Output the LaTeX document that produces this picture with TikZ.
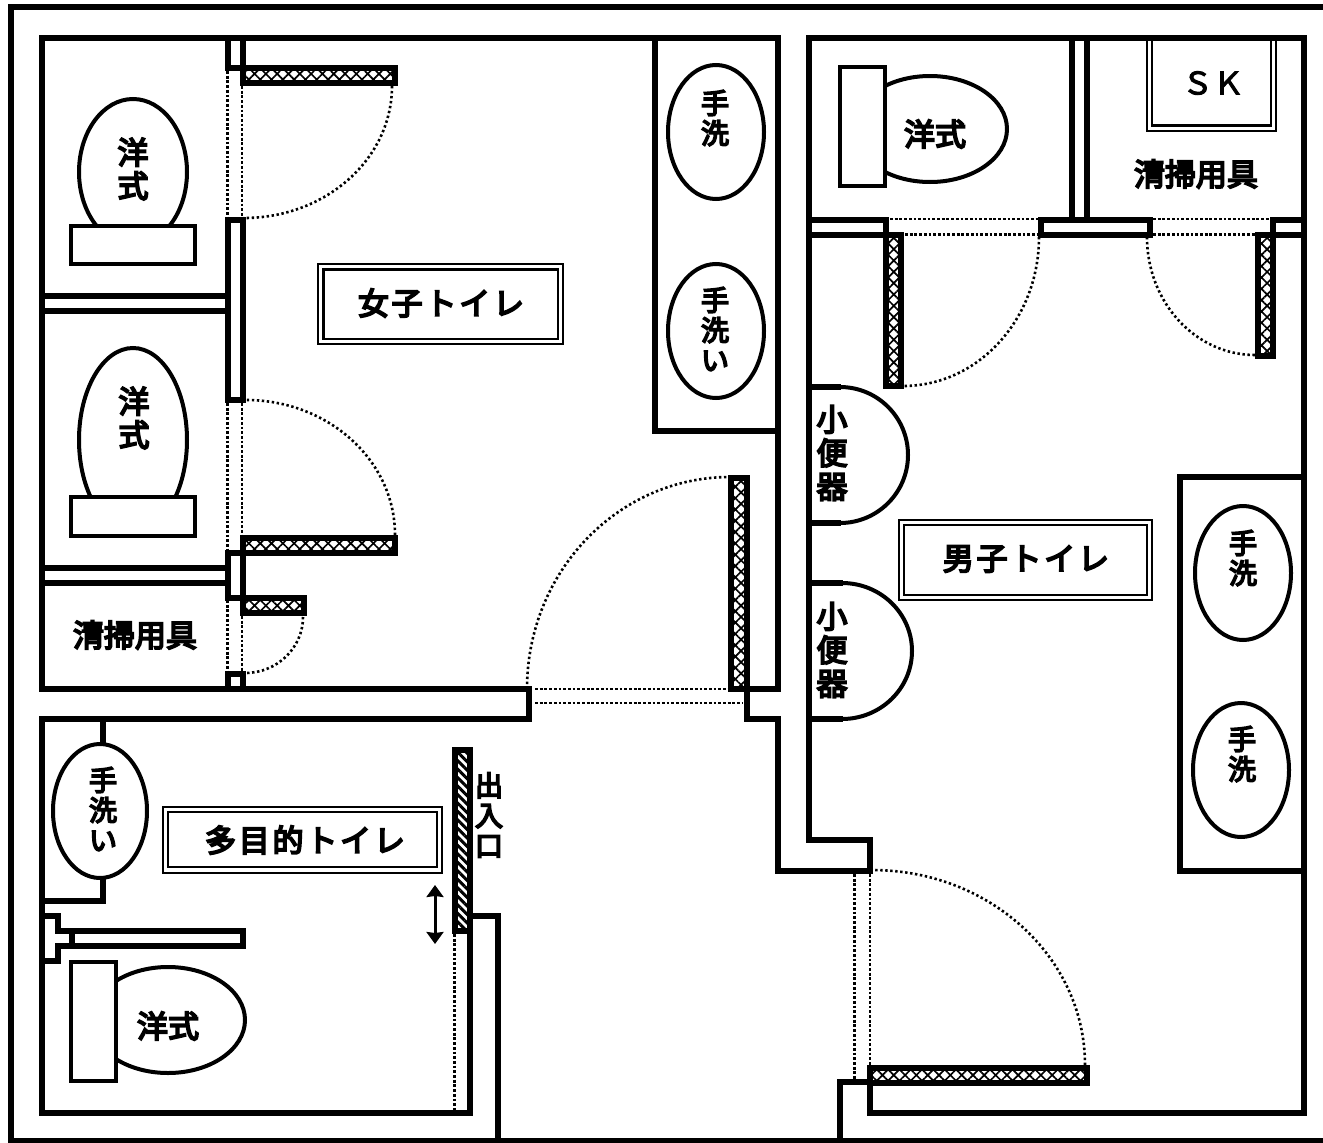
\documentclass[tikz,border=0pt]{standalone}
\usepackage{fontspec}
\newfontfamily\jpfont{Noto Sans CJK JP}[FakeBold=6]
\newfontfamily\jplight{Noto Sans CJK JP}[FakeBold=3]
\newfontfamily\jpwide{Noto Sans CJK JP}[FakeBold=6,LetterSpace=9]
\usetikzlibrary{arrows.meta,patterns.meta}
\tikzset{
  wall/.style={line width=6pt,line cap=rect},
  thin wall/.style={line width=4pt},
  panel/.style={line width=6pt,preaction={fill=white},pattern={Hatch[distance=8pt,angle=45,line width=1.7pt]}},
  hatch panel/.style={line width=6pt,preaction={fill=white},pattern={Lines[distance=6pt,angle=-45,line width=3pt]}},
  swing/.style={line width=2.6pt,dash pattern=on 2.4pt off 2.6pt},
  gap/.style={line width=2.8pt,dash pattern=on 2.8pt off 1.9pt},
  sign/.style={line width=2.4pt},
  big/.style={inner sep=0pt,align=center,font=\jpfont\fontsize{31}{33.5}\selectfont},
  small/.style={inner sep=0pt,align=center,font=\jpfont\fontsize{28}{30}\selectfont},
  title/.style={inner sep=0pt,font=\jpwide\fontsize{31}{33}\selectfont},
}
\begin{document}
\begin{tikzpicture}[x=1pt,y=-1pt]
\useasboundingbox (0,0) rectangle (1323,1143);
\draw[wall] (1330,7) -- (11,7) -- (11,1141) -- (1330,1141);
\draw[wall] (42,689) -- (42,38) -- (778,38) -- (778,689) -- (731,689);
\draw[wall] (42,689) -- (529,689) -- (529,719) -- (42,719) -- (42,1113) -- (470,1113) -- (470,916) -- (498,916) -- (498,1141);
\draw[wall] (655,38) -- (655,431) -- (778,431);
\draw[wall] (747,689) -- (747,719) -- (778,719) -- (778,871) -- (870,871) -- (870,840) -- (809,840) -- (809,38) -- (1304,38) -- (1304,1113) -- (870,1113) -- (870,1082) -- (840,1082) -- (840,1141);
\draw[wall] (227.5,38) -- (227.5,68) -- (243,68) -- (243,38);
\draw[wall] (227.5,220) rectangle (243,400);
\draw[wall] (42,296) -- (227.5,296) (42,311) -- (227.5,311);
\draw[wall] (227.5,553) rectangle (243,597.5);
\draw[wall] (42,568) -- (227.5,568) (42,583) -- (227.5,583);
\draw[wall] (227.5,689) -- (227.5,674) -- (243,674) -- (243,689);
\draw[wall] (809,220) -- (886,220) -- (886,235) (809,235) -- (886,235);
\draw[wall] (1041,220) rectangle (1149.5,235);
\draw[wall] (1072,38) -- (1072,220) (1087,38) -- (1087,220);
\draw[wall] (1304,220) -- (1273,220) -- (1273,235) -- (1304,235);
\draw[wall] (103,719) -- (103,900.5) -- (42,900.5);
\draw[wall] (42,916) -- (57.5,916) -- (57.5,931) -- (243,931) -- (243,946) -- (57.5,946) -- (57.5,961) -- (42,961);
\draw[wall] (72,931) -- (72,946);
\draw[panel] (243,68) rectangle (395,83);
\draw[panel] (243,538) rectangle (395,553);
\draw[panel] (243,598) rectangle (304,613);
\draw[panel] (731,478) rectangle (747,689);
\draw[panel] (870,1068) rectangle (1087,1083);
\draw[panel] (886,235) rectangle (901,386);
\draw[panel] (1258,235) rectangle (1273,356);
\draw[hatch panel] (455,750) rectangle (470,931);
\draw[gap] (227.5,71) -- (227.5,217) (242,86) -- (242,217);
\draw[gap] (227.5,403) -- (227.5,550) (242,403) -- (242,535);
\draw[gap] (227.5,600) -- (227.5,671) (242,616) -- (242,671);
\draw[gap] (535,689) -- (728,689) (535,703) -- (743,703);
\draw[gap] (890,219) -- (1038,219) (905,234.5) -- (1038,234.5);
\draw[gap] (1153,219) -- (1270,219) (1153,234.5) -- (1255,234.5);
\draw[gap] (854.5,874) -- (854.5,1079) (870,874) -- (870,1065);
\draw[gap] (454.5,934) -- (454.5,1110);
\draw[swing] (392,86) arc[start angle=0,end angle=-90,x radius=148pt,y radius=132pt];
\draw[swing] (395,535) arc[start angle=0,end angle=90,x radius=149pt,y radius=135pt];
\draw[swing] (303,617) arc[start angle=0,end angle=-90,x radius=58pt,y radius=56pt];
\draw[swing] (527,689) arc[start angle=180,end angle=90,x radius=203pt,y radius=212pt];
\draw[swing] (1039,237) arc[start angle=0,end angle=-90,x radius=136pt,y radius=149pt];
\draw[swing] (1147,237) arc[start angle=180,end angle=270,x radius=108pt,y radius=118pt];
\draw[swing] (1085,1065) arc[start angle=0,end angle=90,x radius=213pt,y radius=195pt];
\draw[thin wall] (133,172) ellipse[x radius=54pt,y radius=73pt];
\draw[thin wall,fill=white] (71,226) rectangle (195,264);
\draw[thin wall] (133,440) ellipse[x radius=54pt,y radius=92pt];
\draw[thin wall,fill=white] (71,497) rectangle (195,536);
\draw[thin wall] (930,129) ellipse[x radius=77pt,y radius=53pt];
\draw[thin wall,fill=white] (840,67) rectangle (885,186);
\draw[thin wall] (168,1020) ellipse[x radius=77pt,y radius=53pt];
\draw[thin wall,fill=white] (71,962) rectangle (115.5,1081);
\draw[thin wall,fill=white] (716,132) ellipse[x radius=48pt,y radius=67pt];
\draw[thin wall,fill=white] (716,331) ellipse[x radius=48pt,y radius=67pt];
\draw[thin wall,fill=white] (1243,573) ellipse[x radius=48pt,y radius=67pt];
\draw[thin wall,fill=white] (1241,770) ellipse[x radius=48pt,y radius=67pt];
\draw[thin wall,fill=white] (100,811) ellipse[x radius=47pt,y radius=67pt];
\draw[thin wall] (840,387) arc[start angle=90,end angle=-90,x radius=68pt,y radius=68pt];
\draw[wall,line cap=butt] (809,387) -- (841,387) (809,523) -- (841,523);
\draw[thin wall] (842,583) arc[start angle=90,end angle=-90,x radius=70pt,y radius=68pt];
\draw[wall,line cap=butt] (809,583) -- (843,583) (809,719) -- (843,719);
\draw[wall] (1304,477) -- (1180,477) -- (1180,871) -- (1304,871);
\draw[sign] (318,264) rectangle (563,344) (323.5,269.5) rectangle (558,339);
\draw[sign] (899,520) rectangle (1152,600) (904,525) rectangle (1147,595);
\draw[sign] (163,807) rectangle (442,873) (168,812) rectangle (437,867);
\draw[sign] (1147,38) -- (1147,131) -- (1276,131) -- (1276,38);
\draw[sign] (1152,38) -- (1152,125.5) -- (1271,125.5) -- (1271,38);
\coordinate (up) at (435,885);
\coordinate (down) at (435,944);
\draw[line width=3pt,{Stealth[length=12pt,width=17pt,inset=1pt]}-{Stealth[length=12pt,width=17pt,inset=1pt]}] (up) -- (down);
\node[big] (stallA) at (133,169) {洋\\式};
\node[big] (stallB) at (134,418) {洋\\式};
\node[big] (stallC) at (935,134) {洋式};
\node[big] (stallD) at (168,1026) {洋式};
\node[big] (toolsA) at (135,635) {清掃用具};
\node[big] (toolsB) at (1196,174) {清掃用具};
\node[big,font=\jplight\fontsize{31}{33}\selectfont] (sk) at (1213,83) {ＳＫ};
\node[small] (washA) at (715,118) {手\\洗};
\node[small] (washB) at (715,329) {手\\洗\\い};
\node[small] (washC) at (1243,558) {手\\洗};
\node[small] (washD) at (1242,754) {手\\洗};
\node[small] (washE) at (103,809) {手\\洗\\い};
\node[big] (urinalA) at (832,453) {小\\便\\器};
\node[big] (urinalB) at (832,650) {小\\便\\器};
\node[small] (entrance) at (489,815) {出\\入\\口};
\node[title] (ladies) at (441,303) {女子トイレ};
\node[title] (gents) at (1026,559) {男子トイレ};
\node[title] (multi) at (305,840) {多目的トイレ};
\end{tikzpicture}
\end{document}
